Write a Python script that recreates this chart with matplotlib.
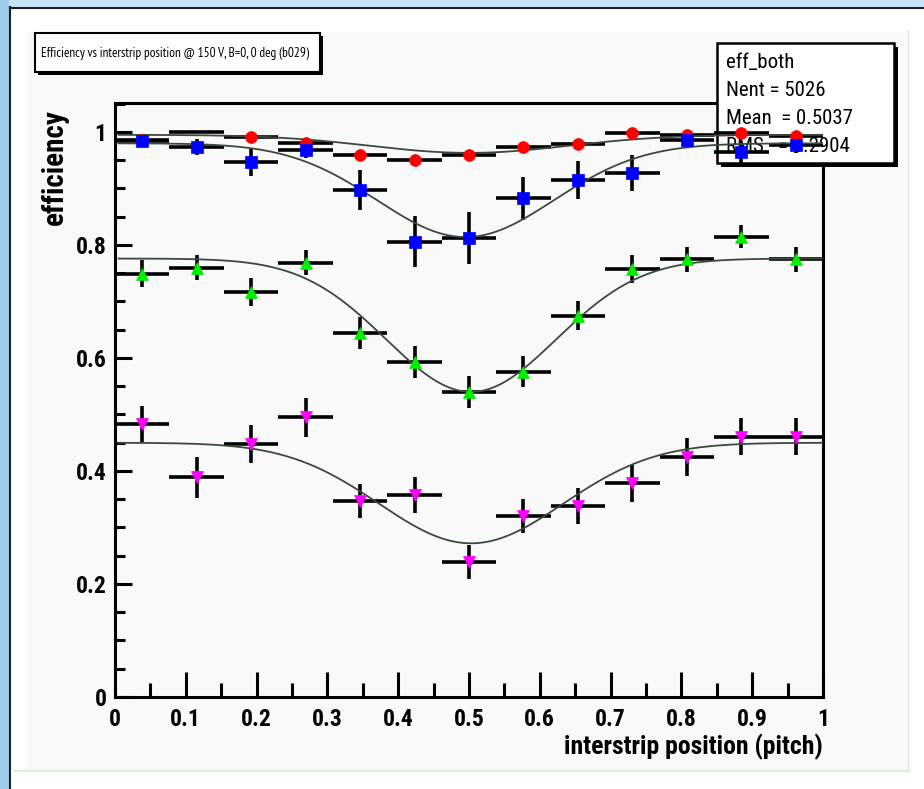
import numpy as np
import matplotlib
matplotlib.use("Agg")
import matplotlib.pyplot as plt
from matplotlib.patches import Rectangle
from matplotlib.ticker import MultipleLocator
from matplotlib import font_manager as fm
from matplotlib.textpath import TextPath

# ---------------- data ----------------
n_bins = 13
bin_width = 1.0 / n_bins
x_centers = [(i + 0.5) / n_bins for i in range(n_bins)]

red_eff = [0.986, 1.000, 0.991, 0.981, 0.959, 0.950, 0.959, 0.974, 0.978, 0.999, 0.995, 0.999, 0.993]
red_err = [0.008, 0.000, 0.008, 0.008, 0.010, 0.010, 0.010, 0.008, 0.008, 0.005, 0.006, 0.005, 0.006]

blue_eff = [0.984, 0.974, 0.947, 0.969, 0.897, 0.806, 0.812, 0.883, 0.915, 0.927, 0.986, 0.964, 0.977]
blue_err = [0.010, 0.014, 0.025, 0.015, 0.035, 0.045, 0.046, 0.038, 0.033, 0.032, 0.012, 0.020, 0.015]

green_eff = [0.749, 0.760, 0.717, 0.769, 0.644, 0.593, 0.540, 0.576, 0.675, 0.757, 0.775, 0.815, 0.775]
green_err = [0.024, 0.022, 0.025, 0.022, 0.028, 0.029, 0.029, 0.028, 0.026, 0.025, 0.022, 0.020, 0.022]

magenta_eff = [0.483, 0.389, 0.448, 0.495, 0.347, 0.358, 0.239, 0.321, 0.338, 0.378, 0.425, 0.461, 0.461]
magenta_err = [0.032, 0.036, 0.034, 0.035, 0.030, 0.032, 0.030, 0.030, 0.032, 0.033, 0.033, 0.033, 0.033]

# fit parameters (plateau, depth, centre, sigma) of the gaussian-dip fits
fit_plateau = [0.995, 0.980, 0.776, 0.450]
fit_depth = [0.032, 0.166, 0.236, 0.178]
fit_center = [0.500, 0.495, 0.503, 0.503]
fit_sigma = [0.140, 0.125, 0.120, 0.130]

title_text = "Efficiency vs interstrip position @ 150 V, B=0, 0 deg (b029)"
stats_lines = ["eff_both", "Nent = 5026", "Mean  = 0.5037", "RMS   = 0.2904"]
x_tick_labels = ['0', '0.1', '0.2', '0.3', '0.4', '0.5', '0.6', '0.7', '0.8', '0.9', '1']
y_tick_labels = ['0', '0.2', '0.4', '0.6', '0.8', '1']
x_label = "interstrip position (pitch)"
y_label = "efficiency"

# ---------------- fonts: prefer narrow/condensed sans faces if installed ----------------
SANS_KEYS = ['liberation', 'arial', 'roboto', 'opensans', 'open sans', 'noto', 'dejavu', 'lato', 'inter',
             'ubuntu', 'firasans', 'fira sans', 'sourcesans', 'source sans', 'ptsans', 'pt sans']

def _weight(f):
    return f.weight if isinstance(f.weight, int) else (700 if 'bold' in str(f.weight) else 400)

def condensed_candidates(bold, allow_extra):
    out = []
    for f in fm.fontManager.ttflist:
        nm = (f.name + ' ' + f.fname).lower()
        if not ('condensed' in nm or 'narrow' in nm or str(f.stretch) in ('condensed', 'semi-condensed',
                                                                          'extra-condensed')):
            continue
        if not any(k in nm for k in SANS_KEYS):
            continue
        if 'mono' in nm or 'serif' in nm or 'code' in nm or 'consol' in nm:
            continue
        if not allow_extra and ('extra' in nm or 'ultra' in nm or 'semi' in nm):
            continue
        if f.style != 'normal' or 'italic' in nm:
            continue
        w = _weight(f)
        if bold and not (650 <= w <= 750):
            continue
        if not bold and not (380 <= w <= 520):
            continue
        if any(k in nm for k in ('light', 'black', 'medium', 'thin', 'semibold', 'extrabold')):
            continue
        out.append(f)
    return out

def pick_main(bold):
    best = None
    for f in condensed_candidates(bold, False):
        nm = (f.name + ' ' + f.fname).lower()
        score = 0
        for i, key in enumerate(['liberation', 'arial', 'roboto', 'open', 'noto', 'dejavu']):
            if key in nm:
                score = 10 - i
        if best is None or score > best[0]:
            best = (score, f.fname)
    return best[1] if best else None

def pick_narrowest(bold):
    best = None
    for f in condensed_candidates(bold, True):
        try:
            tp = TextPath((0, 0), title_text, size=10, prop=fm.FontProperties(fname=f.fname))
            w = tp.get_extents().width
        except Exception:
            continue
        if best is None or w < best[0]:
            best = (w, f.fname)
    return best[1] if best else None

fn_reg = pick_main(False)
fn_bold = pick_main(True)
fn_title = pick_narrowest(False) or fn_reg
narrow = fn_reg is not None
if narrow:
    fp_reg = fm.FontProperties(fname=fn_reg)
    fp_bold = fm.FontProperties(fname=fn_bold) if fn_bold else fm.FontProperties(fname=fn_reg, weight='bold')
else:
    fp_reg = fm.FontProperties(family=['Liberation Sans', 'DejaVu Sans'])
    fp_bold = fm.FontProperties(family=['Liberation Sans', 'DejaVu Sans'], weight='bold')
fp_title = fm.FontProperties(fname=fn_title) if fn_title else fp_reg

def fprop(base, size):
    p = base.copy()
    p.set_size(size)
    return p

# ---------------- figure ----------------
W, H = 924, 789
fig = plt.figure(figsize=(W / 100, H / 100), dpi=100)
fig.patch.set_facecolor('white')

def px_rect(x0, y0, x1, y1, **kw):
    return Rectangle((x0 / W, 1 - y1 / H), (x1 - x0) / W, (y1 - y0) / H,
                     transform=fig.transFigure, **kw)

# window frame
fig.patches.append(px_rect(0, 0, 924, 8, facecolor='#c8e4f6', edgecolor='none', zorder=-10))
fig.patches.append(px_rect(0, 0, 9, 789, facecolor='#9ccbea', edgecolor='none', zorder=-10))
fig.patches.append(px_rect(9, 7, 924, 789, facecolor='white', edgecolor='none', zorder=-9))
fig.add_artist(plt.Line2D([9.5 / W, 9.5 / W], [0, 1 - 7 / H], transform=fig.transFigure,
                          color='#202020', lw=1.5, zorder=-8))
fig.add_artist(plt.Line2D([9.5 / W, 1], [1 - 7.5 / H, 1 - 7.5 / H], transform=fig.transFigure,
                          color='#202020', lw=1.5, zorder=-8))
fig.patches.append(px_rect(27, 32, 907, 770, facecolor='#f9f9f9', edgecolor='none', zorder=-7))
fig.add_artist(plt.Line2D([15 / W, 909 / W], [1 - 770.5 / H, 1 - 770.5 / H], transform=fig.transFigure,
                          color='#d8f0d8', lw=1.5, zorder=-6))
fig.add_artist(plt.Line2D([907.5 / W, 907.5 / W], [1 - 770 / H, 1 - 30 / H], transform=fig.transFigure,
                          color='#e4e4e4', lw=1.0, zorder=-6))

# axes
ax_l, ax_r, ax_t, ax_b = 115, 823, 103, 697
ax = fig.add_axes([ax_l / W, 1 - ax_b / H, (ax_r - ax_l) / W, (ax_b - ax_t) / H])
ax.set_facecolor('none')
ax.set_xlim(0, 1)
ax.set_ylim(0, 1.0513)
for s in ax.spines.values():
    s.set_linewidth(2.2)
    s.set_color('black')

ax.xaxis.set_minor_locator(MultipleLocator(0.05))
ax.yaxis.set_minor_locator(MultipleLocator(0.05))
ax.tick_params(axis='both', which='both', direction='in', top=False, right=False, width=2.2, color='black')
ax.tick_params(axis='x', which='major', length=18, pad=8)
ax.tick_params(axis='x', which='minor', length=10)
ax.tick_params(axis='y', which='major', length=12, pad=6)
ax.tick_params(axis='y', which='minor', length=7)

tick_size = 17 if narrow else 15.5
ax.set_xticks([i / 10 for i in range(11)])
ax.set_xticklabels(x_tick_labels, fontproperties=fprop(fp_bold, tick_size))
ax.set_yticks([0, 0.2, 0.4, 0.6, 0.8, 1.0])
ax.set_yticklabels(y_tick_labels, fontproperties=fprop(fp_bold, tick_size))

ax.set_xlabel(x_label, fontproperties=fprop(fp_bold, 18.5 if narrow else 16.5), loc='right', labelpad=2)
fig.text(55 / W, 1 - 167 / H, y_label, rotation=90, ha='center', va='center',
         fontproperties=fprop(fp_bold, 21 if narrow else 18))

# series
series = [
    (red_eff, red_err, 'o', '#ff0000', 8.5),
    (blue_eff, blue_err, 's', '#0000ff', 8.5),
    (green_eff, green_err, '^', '#00ee00', 9.0),
    (magenta_eff, magenta_err, 'v', '#ff00ff', 9.0),
]
xs = np.array(x_centers)
for eff, err, mk, col, ms in series:
    ax.errorbar(xs, eff, xerr=bin_width / 2, yerr=err, fmt='none', ecolor='black',
                elinewidth=2.6, capsize=0, zorder=5)

xx = np.linspace(0.005, 1.0, 400)
for p, d, c, s in zip(fit_plateau, fit_depth, fit_center, fit_sigma):
    ax.plot(xx, p - d * np.exp(-(xx - c) ** 2 / (2 * s ** 2)), color='#3c4a3c', lw=1.3, zorder=6)

for k, (eff, err, mk, col, ms) in enumerate(series):
    mev = [i for i in range(n_bins) if err[i] > 0] if k == 0 else None
    ax.plot(xs, eff, linestyle='none', marker=mk, color=col, markersize=ms,
            markeredgewidth=0.5, markeredgecolor=col, markevery=mev, zorder=7)

# stats box (over the frame, under the data)
ax.add_patch(px_rect(721, 47, 898, 167, facecolor='black', edgecolor='none', zorder=3, clip_on=False))
ax.add_patch(px_rect(717, 43, 894, 163, facecolor='white', edgecolor='black', lw=1.8, zorder=3.1,
                     clip_on=False))
for i, line in enumerate(stats_lines):
    ax.text(726 / W, 1 - (63 + i * 28) / H, line, transform=fig.transFigure,
            fontproperties=fprop(fp_reg, 15 if narrow else 13), ha='left', va='center',
            zorder=3.2, clip_on=False)

# title box
fig.patches.append(px_rect(38, 36, 323, 75, facecolor='black', edgecolor='none', zorder=1))
fig.patches.append(px_rect(35, 33, 320, 72, facecolor='white', edgecolor='black', lw=1.5, zorder=1.1))
t = fig.text(41 / W, 1 - 53 / H, title_text, ha='left', va='center', zorder=1.2,
             fontproperties=fprop(fp_title, 15.5))
# shrink the title font until it fits its box
renderer = fig.canvas.get_renderer()
size = 15.5
while size > 6 and t.get_window_extent(renderer).width > 273:
    size -= 0.25
    t.set_fontproperties(fprop(fp_title, size))

fig.savefig('out.png', dpi=100, facecolor=fig.get_facecolor())
